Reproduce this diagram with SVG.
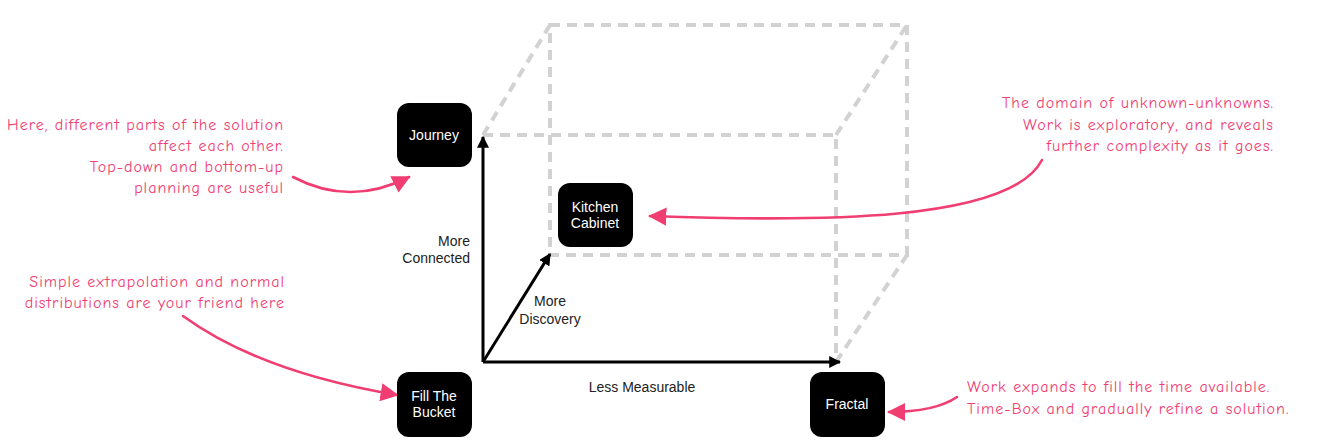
<svg xmlns="http://www.w3.org/2000/svg" width="1318" height="448" viewBox="0 0 1318 448">
<defs>
<style>
.dash{fill:none;stroke:#d2d2d2;stroke-width:4;stroke-dasharray:10 7}
.axis{fill:none;stroke:#000;stroke-width:3}
.node rect{fill:#000}
.node text{fill:#fff;font-family:"Liberation Sans",Arial,sans-serif;font-size:14px;text-anchor:middle}
.lbl{fill:#222;font-family:"Liberation Sans",Arial,sans-serif;font-size:14px}
.note{fill:#f03e72;font-family:"Comic Neue","DejaVu Sans",sans-serif;font-size:16px;letter-spacing:1px}
.pink{fill:none;stroke:#f03e72;stroke-width:2.6;stroke-linecap:round}
</style>
<marker id="ah" viewBox="0 0 10 10" refX="9" refY="5" markerWidth="4" markerHeight="4" orient="auto" markerUnits="strokeWidth"><path d="M0,0 L10,5 L0,10 z" fill="#000"/></marker>
<marker id="ph" viewBox="0 0 10 10" refX="9" refY="5" markerWidth="7" markerHeight="7" orient="auto" markerUnits="strokeWidth"><path d="M0,0 L10,5 L0,10 z" fill="#f03e72"/></marker>
</defs>
<rect width="1318" height="448" fill="#fff"/>
<g id="cube">
<rect class="dash" x="550" y="25" width="357" height="230"/>
<path class="dash" d="M483,135 H836 V362"/>
<path class="dash" d="M483,135 L550,25 M836,135 L907,25 M836,362 L907,255"/>
</g>
<g id="connectors">
<path class="axis" d="M483,362 V137" marker-end="url(#ah)"/>
<path class="axis" d="M483,362 H840" marker-end="url(#ah)"/>
<path class="axis" stroke-width="2.5" d="M483,362 L550,254" marker-end="url(#ah)"/>
<path class="pink" d="M293,177 Q350,207 409,177" marker-end="url(#ph)"/>
<path class="pink" d="M183,316 Q260,372 397,395" marker-end="url(#ph)"/>
<path class="pink" d="M1042,160 C1010,222 820,222 650,216" marker-end="url(#ph)"/>
<path class="pink" d="M957,397 Q935,412 889,412" marker-end="url(#ph)"/>
</g>
<g id="journey" class="node"><rect x="397" y="103" width="75" height="64" rx="12"/><text x="434" y="140">Journey</text></g>
<g id="kitchen-cabinet" class="node"><rect x="558" y="183" width="75" height="64" rx="12"/><text x="595" y="212">Kitchen</text><text x="595" y="228">Cabinet</text></g>
<g id="fill-the-bucket" class="node"><rect x="397" y="372" width="75" height="65" rx="12"/><text x="434" y="401">Fill The</text><text x="434" y="417">Bucket</text></g>
<g id="fractal" class="node"><rect x="810" y="372" width="75" height="65" rx="12"/><text x="847" y="409">Fractal</text></g>
<g id="axis-labels">
<text class="lbl" x="470" y="246" text-anchor="end">More</text>
<text class="lbl" x="470" y="263" text-anchor="end">Connected</text>
<text class="lbl" x="550" y="306" text-anchor="middle">More</text>
<text class="lbl" x="550" y="324" text-anchor="middle">Discovery</text>
<text class="lbl" x="642" y="392" text-anchor="middle">Less Measurable</text>
</g>
<g id="notes">
<text class="note" text-anchor="end"><tspan x="284" y="130">Here, different parts of the solution</tspan><tspan x="284" y="151">affect each other.</tspan><tspan x="284" y="172">Top-down and bottom-up</tspan><tspan x="284" y="193">planning are useful</tspan></text>
<text class="note" text-anchor="end"><tspan x="285" y="287">Simple extrapolation and normal</tspan><tspan x="285" y="308">distributions are your friend here</tspan></text>
<text class="note" text-anchor="end"><tspan x="1274" y="108">The domain of unknown-unknowns.</tspan><tspan x="1274" y="130">Work is exploratory, and reveals</tspan><tspan x="1274" y="151">further complexity as it goes.</tspan></text>
<text class="note"><tspan x="967" y="392">Work expands to fill the time available.</tspan><tspan x="967" y="414">Time-Box and gradually refine a solution.</tspan></text>
</g>
</svg>
